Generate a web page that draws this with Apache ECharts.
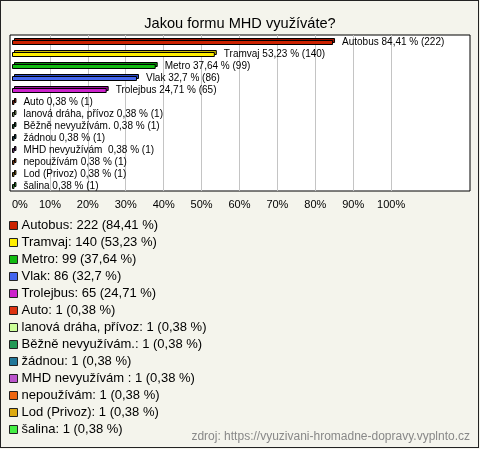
<!DOCTYPE html>
<html>
<head>
<meta charset="utf-8">
<script src="https://cdn.jsdelivr.net/npm/echarts@6/dist/echarts.min.js"></script>
<style>
html,body{margin:0;padding:0;background:#f4f4ec;}
#wrap{position:relative;width:480px;height:449px;}
#chart{position:absolute;left:0;top:0;width:480px;height:449px;}
#frame{position:absolute;left:0;top:0;width:479px;height:448px;box-sizing:border-box;border:1px solid #222;pointer-events:none;}
</style>
</head>
<body>
<div id="wrap"><div id="chart"></div><div id="frame"></div></div>
<script>
const categories = ['Autobus','Tramvaj','Metro','Vlak','Trolejbus','Auto','lanová dráha, přívoz','Běžně nevyužívám.','žádnou','MHD nevyužívám ','nepoužívám','Lod (Privoz)','šalina'];
const counts = [222,140,99,86,65,1,1,1,1,1,1,1,1];
const percents = [84.41,53.23,37.64,32.7,24.71,0.38,0.38,0.38,0.38,0.38,0.38,0.38,0.38];
const percentText = ['84,41','53,23','37,64','32,7','24,71','0,38','0,38','0,38','0,38','0,38','0,38','0,38','0,38'];
const frontColors = ['#cc2200','#ffee00','#11bb11','#4466ee','#cc22cc','#dd3311','#ccff99','#229955','#227799','#bb55cc','#ee6611','#ddaa11','#44ee44'];
const backColors = ['#991100','#ccbb00','#0a880a','#2a48c0','#991199','#aa2200','#99cc66','#116633','#115566','#883399','#bb4400','#aa7700','#22bb22'];
const xTicks = [0,10,20,30,40,50,60,70,80,90,100];
const title = 'Jakou formu MHD využíváte?';
const source = 'zdroj: https://vyuzivani-hromadne-dopravy.vyplnto.cz';

const FONT = '"Liberation Sans", Arial, sans-serif';
const chart = echarts.init(document.getElementById('chart'), null, {renderer:'canvas'});

const gridColors = xTicks.map(v => v === 0 ? 'rgba(0,0,0,0)' : '#c4c4c4').concat(['rgba(0,0,0,0)','rgba(0,0,0,0)','rgba(0,0,0,0)','rgba(0,0,0,0)']);

const series = categories.map((name, i) => ({
  name: name,
  type: 'custom',
  xAxisIndex: 1,
  yAxisIndex: 1,
  color: frontColors[i],
  data: [[percents[i], i]],
  encode: {x: 0, y: 1},
  renderItem: function (params, api) {
    const start = api.coord([0, api.value(1)]);
    const end = api.coord([api.value(0), api.value(1)]);
    const c = Math.round(start[1]);
    const x0 = Math.round(start[0]);
    const w = Math.max(end[0] - start[0], 1);
    return {
      type: 'group',
      children: [
        {type:'rect', shape:{x:x0+2.5, y:c-2.5, width:w, height:4}, style:{fill:backColors[i], stroke:'#000', lineWidth:1}},
        {type:'rect', shape:{x:x0+0.5, y:c-0.5, width:w, height:4}, style:{fill:frontColors[i], stroke:'#000', lineWidth:1}},
        {type:'text', x: end[0] + 10, y: c + 1, style:{text: name + ' ' + percentText[i] + ' % (' + counts[i] + ')', fill:'#000', fontSize:10, fontFamily:FONT, verticalAlign:'middle', align:'left'}}
      ]
    };
  }
}));

chart.setOption({
  backgroundColor: '#f4f4ec',
  animation: false,
  title: {text: title, left: 'center', top: 11, textStyle:{fontSize:14.6, fontWeight:'normal', color:'#000', fontFamily:FONT}},
  graphic: [{type:'text', right: 10, top: 431, style:{text: source, fill:'#888', fontSize:12, fontFamily:FONT}}],
  legend: {
    orient: 'vertical', left: 9, top: 217, padding: 0, itemGap: 0,
    itemWidth: 8, itemHeight: 8, icon: 'rect',
    itemStyle: {borderColor:'#222', borderWidth:1},
    data: categories,
    selectedMode: false,
    textStyle: {fontSize:13, color:'#000', fontFamily:FONT, lineHeight:17, padding:[0,0,0,-1]},
    formatter: function (n) { const i = categories.indexOf(n); return n + ': ' + counts[i] + ' (' + percentText[i] + ' %)'; }
  },
  grid: [
    {left:10, top:35, width:460, height:156, show:true, backgroundColor:'#fff', borderColor:'#000', borderWidth:1},
    {left:12, top:35, width:458, height:156, show:false}
  ],
  xAxis: [
    {gridIndex:0, type:'value', show:false},
    {gridIndex:1, type:'value', min:0, max:120.8, interval:10,
     axisLine:{show:false}, axisTick:{show:false},
     splitLine:{show:true, lineStyle:{color:gridColors, width:1}},
     axisLabel:{color:'#000', fontSize:11, fontFamily:FONT, margin:8, showMaxLabel:false, alignMinLabel:'left',
       formatter: function (v) { return xTicks.indexOf(v) >= 0 ? v + '%' : ''; }}}
  ],
  yAxis: [
    {gridIndex:0, type:'value', show:false},
    {gridIndex:1, type:'category', data: categories, inverse:true, show:false}
  ],
  series: series
});
</script>
</body>
</html>
